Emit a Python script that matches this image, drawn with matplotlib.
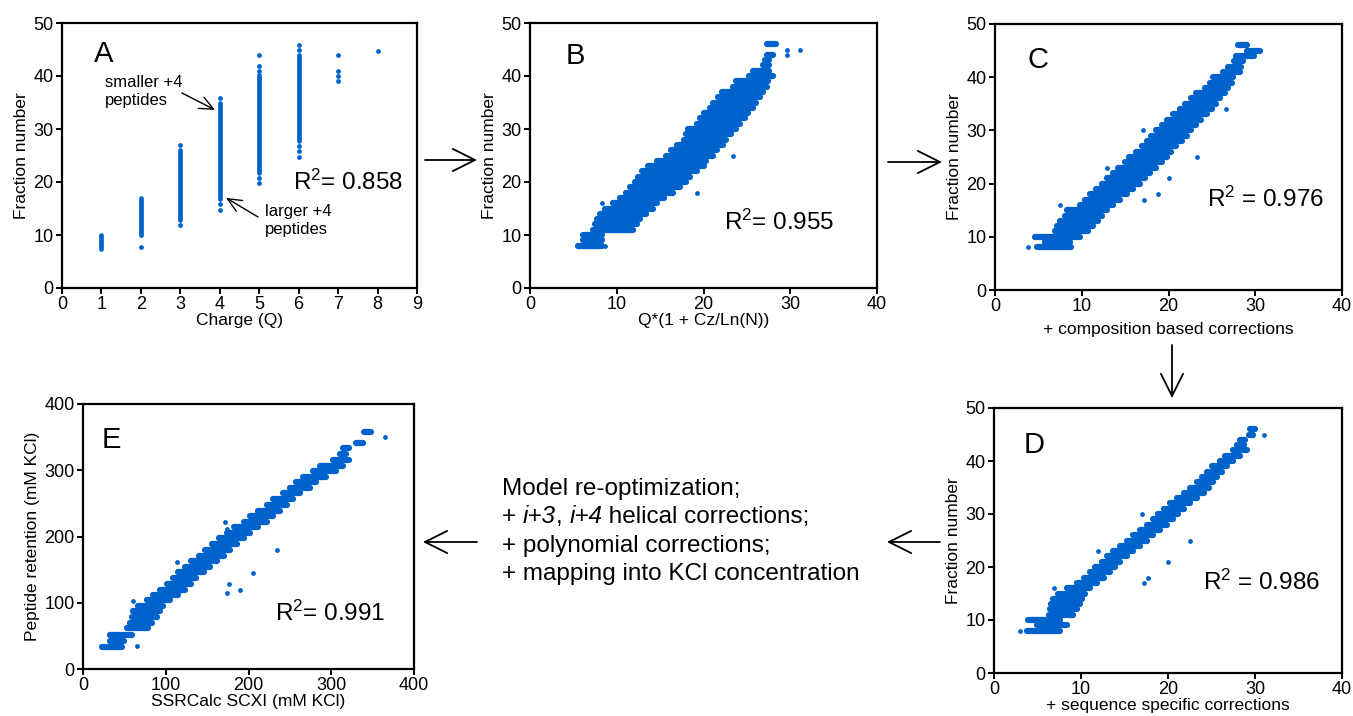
import matplotlib
matplotlib.use("Agg")
import matplotlib.pyplot as plt
import numpy as np

plt.rcParams["font.family"] = ["Liberation Sans", "DejaVu Sans"]
plt.rcParams["mathtext.fontset"] = "custom"
plt.rcParams["mathtext.rm"] = "Liberation Sans"
plt.rcParams["mathtext.it"] = "Liberation Sans:italic"

BLUE = "#0063CB"

# ---- panel A: fraction number vs charge ----
a_charge = [1, 2, 3, 4, 5, 6]
a_core_lo = [7.3, 10.4, 12.9, 16.7, 21.7, 27.7]
a_core_hi = [10.0, 17.0, 26.0, 34.9, 40.2, 44.0]
a_iso_q = [2, 2, 3, 3, 4, 4, 4, 5, 5, 5, 5, 5, 6, 6, 6, 6, 6, 7, 7, 7, 7, 8]
a_iso_frac = [10, 7.8, 26.9, 11.8, 35.8, 15.9, 14.8, 43.9, 41.9, 41, 20.8, 19.8,
              45.9, 45, 26.7, 25.8, 24.8, 43.9, 40.9, 40, 39, 44.8]

# rows of fraction numbers shared by B, C, D
fractions = list(range(8, 47))

# ---- panel B: Q*(1 + Cz/Ln(N)) ----
b_xmin = [5.5, 6.1, 6.1, 7.3, 7.5, 7.7, 8.1, 8.6, 9.6, 10.4, 11.1, 11.5, 12.1, 12.5,
          12.9, 13.6, 14.6, 15.7, 16.3, 16.9, 17.7, 18.0, 18.2, 19.2, 19.6, 20.0,
          20.7, 21.1, 21.7, 22.1, 23.4, 23.8, 25.3, 25.7, 26.9, 27.1, 27.3, 28.2, 27.3]
b_xmax = [8.3, 8.3, 8.3, 11.9, 12.3, 12.7, 13.4, 14.2, 14.6, 15.4, 16.5, 17.3, 18.0,
          18.4, 19.2, 20.0, 20.3, 21.1, 21.5, 22.3, 22.6, 23.2, 23.8, 24.2, 24.8,
          25.1, 25.7, 26.1, 26.5, 26.9, 27.3, 27.4, 28.0, 27.6, 27.6, 27.6, 28.0, 28.2, 28.4]
b_out_x = [8.7, 8.3, 19.2, 23.4, 29.6, 29.6, 31.1]
b_out_y = [8, 16, 18, 25, 45, 44, 45]

# ---- panel C: + composition based corrections ----
c_xmin = [4.8, 5.8, 4.6, 6.9, 7.1, 7.5, 8.1, 8.3, 9.8, 10.4, 10.9, 11.7, 12.3, 12.9,
          13.6, 14.2, 15.0, 15.5, 16.3, 16.9, 17.5, 18.0, 18.6, 19.2, 19.8, 20.5,
          21.3, 21.9, 22.6, 23.2, 24.2, 24.8, 25.1, 26.3, 26.9, 27.6, 27.8, 29.0, 28.0]
c_xmax = [8.8, 8.6, 9.8, 10.7, 11.3, 11.9, 12.3, 12.9, 13.6, 14.4, 15.2, 15.9, 16.7,
          17.3, 17.9, 18.6, 19.2, 19.8, 20.3, 20.9, 21.5, 22.1, 22.6, 23.2, 23.8,
          24.4, 25.0, 25.5, 25.9, 26.5, 26.9, 27.3, 27.4, 28.2, 28.4, 28.6, 29.8, 30.5, 29.0]
c_out_x = [3.8, 7.5, 17.2, 18.8, 20.1, 23.3, 17.1, 26.6, 12.9]
c_out_y = [8, 16, 17, 18, 21, 25, 30, 34, 23]

# ---- panel D: + sequence specific corrections ----
d_xmin = [3.8, 4.9, 3.9, 6.3, 6.4, 6.6, 6.8, 7.4, 8.4, 9.5, 10.3, 11.0, 11.6, 12.4,
          13.0, 13.7, 14.5, 15.3, 16.0, 16.8, 17.6, 18.3, 18.9, 19.5, 20.2, 21.0,
          21.8, 22.5, 23.3, 23.9, 24.5, 25.1, 26.0, 26.6, 27.5, 27.9, 28.3, 29.3, 29.4]
d_xmax = [7.6, 8.4, 7.6, 9.1, 9.5, 9.9, 10.1, 10.5, 11.0, 11.8, 12.6, 13.3, 13.9,
          14.5, 15.3, 16.0, 16.8, 17.6, 18.3, 19.1, 19.9, 20.6, 21.2, 21.8, 22.5,
          23.3, 24.1, 24.7, 25.2, 25.6, 26.2, 26.8, 27.5, 28.3, 29.1, 28.7, 28.9, 29.8, 30.0]
d_out_x = [3.0, 6.9, 12.0, 17.2, 17.7, 20.0, 22.5, 17.0, 31.0]
d_out_y = [8, 16, 23, 17, 18, 21, 25, 30, 45]

# ---- panel E: retention (mM KCl) vs SSRCalc SCXI ----
e_kcl = [33, 42, 51, 62, 70, 78, 87, 95, 104, 112, 120, 129, 137, 146, 154, 163, 171,
         180, 188, 197, 205, 214, 222, 231, 239, 248, 256, 265, 273, 282, 290, 299,
         307, 316, 324, 333, 341, 350, 358]
e_xmin = [23, 33, 33, 53, 57, 59, 61, 67, 77, 85, 93, 101, 109, 115, 123, 131, 140,
          148, 156, 164, 174, 182, 194, 202, 212, 222, 230, 242, 250, 258, 266, 278,
          286, 302, 310, 314, 330, 352, 340]
e_xmax = [47, 49, 59, 79, 83, 89, 93, 97, 105, 115, 123, 131, 137, 146, 154, 162, 170,
          178, 186, 194, 202, 212, 222, 230, 238, 246, 254, 262, 274, 282, 294, 306,
          314, 322, 318, 322, 338, 352, 348]
e_out_x = [23, 65, 60, 114, 172, 174, 176, 174, 190, 206, 235, 365]
e_out_y = [35, 34, 102, 162, 222, 212, 129, 114, 120, 145, 179, 350]

W, H = 1353, 716
fig = plt.figure(figsize=(W / 100, H / 100), dpi=100)


def px_axes(left, top, right, bottom):
    return fig.add_axes([left / W, 1 - bottom / H, (right - left) / W, (bottom - top) / H])


def style(ax, xlim, ylim, xticks, yticks):
    ax.set_xlim(*xlim)
    ax.set_ylim(*ylim)
    ax.set_xticks(xticks)
    ax.set_yticks(yticks)
    for s in ax.spines.values():
        s.set_linewidth(1.6)
    ax.tick_params(direction="out", length=4.5, width=1.4, labelsize=13, pad=1.5,
                   top=False, right=False)


def rows(ax, y, x0, x1, ox, oy):
    ax.hlines(y, x0, x1, colors=BLUE, lw=4.5, capstyle="round")
    ax.scatter(ox, oy, s=12, color=BLUE, linewidths=0)


def r2(ax, x, y, txt):
    ax.text(x, y, txt, transform=ax.transAxes, fontsize=17.5, va="baseline")


def letter(ax, x, y, s):
    ax.text(x, y, s, transform=ax.transAxes, fontsize=21, va="baseline")


# A
axA = px_axes(62, 23, 417, 288)
style(axA, (0, 9), (0, 50), range(0, 10), range(0, 51, 10))
axA.vlines(a_charge, a_core_lo, a_core_hi, colors=BLUE, lw=3.4, capstyle="round")
axA.scatter(a_iso_q, a_iso_frac, s=12, color=BLUE, linewidths=0)
axA.set_xlabel("Charge (Q)", fontsize=12.5, labelpad=0)
axA.set_ylabel("Fraction number", fontsize=12.5, labelpad=3)
letter(axA, 0.09, 0.853, "A")
r2(axA, 0.65, 0.37, r"R$^2$= 0.858")
axA.text(1.09, 40.2, "smaller +4\npeptides", fontsize=12, va="top", linespacing=1.25)
axA.text(5.15, 15.8, "larger +4\npeptides", fontsize=12, va="top", linespacing=1.25)
small_arrow = dict(arrowstyle="->,head_length=1.0,head_width=0.45", lw=1.0,
                   mutation_scale=10, shrinkA=0, shrinkB=0, color="black")
axA.annotate("", xy=(3.88, 33.6), xytext=(3.04, 36.8), arrowprops=small_arrow)
axA.annotate("", xy=(4.16, 17.0), xytext=(4.97, 13.4), arrowprops=small_arrow)

# B
axB = px_axes(530, 23, 877, 288)
style(axB, (0, 40), (0, 50), range(0, 41, 10), range(0, 51, 10))
rows(axB, fractions, b_xmin, b_xmax, b_out_x, b_out_y)
axB.set_xlabel("Q*(1 + Cz/Ln(N))", fontsize=12.5, labelpad=0)
axB.set_ylabel("Fraction number", fontsize=12.5, labelpad=3)
letter(axB, 0.104, 0.845, "B")
r2(axB, 0.56, 0.22, r"R$^2$= 0.955")

# C
axC = px_axes(995, 24, 1342, 290)
style(axC, (0, 40), (0, 50), range(0, 41, 10), range(0, 51, 10))
rows(axC, fractions, c_xmin, c_xmax, c_out_x, c_out_y)
axC.set_xlabel("+ composition based corrections", fontsize=12.5, labelpad=5)
axC.set_ylabel("Fraction number", fontsize=12.5, labelpad=3)
letter(axC, 0.095, 0.835, "C")
r2(axC, 0.61, 0.312, r"R$^2$ = 0.976")

# D
axD = px_axes(994, 408, 1342, 673)
style(axD, (0, 40), (0, 50), range(0, 41, 10), range(0, 51, 10))
rows(axD, fractions, d_xmin, d_xmax, d_out_x, d_out_y)
axD.set_xlabel("+ sequence specific corrections", fontsize=12.5, labelpad=0)
axD.set_ylabel("Fraction number", fontsize=12.5, labelpad=3)
letter(axD, 0.086, 0.83, "D")
r2(axD, 0.60, 0.313, r"R$^2$ = 0.986")

# E
axE = px_axes(83, 404, 414, 669)
style(axE, (0, 400), (0, 400), range(0, 401, 100), range(0, 401, 100))
rows(axE, e_kcl, e_xmin, e_xmax, e_out_x, e_out_y)
axE.set_xlabel("SSRCalc SCXI (mM KCl)", fontsize=12.5, labelpad=0)
axE.set_ylabel("Peptide retention (mM KCl)", fontsize=12.5, labelpad=3)
letter(axE, 0.057, 0.834, "E")
r2(axE, 0.58, 0.18, r"R$^2$= 0.991")

# overlay in pixel coordinates for the workflow arrows and text
ov = fig.add_axes([0, 0, 1, 1], zorder=-1)
ov.set_xlim(0, W)
ov.set_ylim(H, 0)
ov.axis("off")
big_arrow = dict(arrowstyle="->,head_length=0.8,head_width=0.4", lw=1.3,
                 mutation_scale=20, shrinkA=0, shrinkB=0, color="black")
for (x0, y0), (x1, y1) in [((425, 160), (477, 160)), ((888, 162), (942, 162)),
                           ((1172, 345), (1172, 398)), ((940, 542), (887, 542)),
                           ((477, 542), (423, 542))]:
    ov.annotate("", xy=(x1, y1), xytext=(x0, y0), arrowprops=big_arrow)

fs = 17.5
ov.text(502, 495, "Model re-optimization;", fontsize=fs, va="baseline")
t = ov.text(502, 523, "+ ", fontsize=fs, va="baseline")
for piece, italic in [("i+3", True), (", ", False), ("i+4", True), (" helical corrections;", False)]:
    t = ov.annotate(piece, xy=(1, 0), xycoords=t, va="bottom", ha="left", fontsize=fs,
                    style="italic" if italic else "normal")
ov.text(502, 552, "+ polynomial corrections;", fontsize=fs, va="baseline")
ov.text(502, 580, "+ mapping into KCl concentration", fontsize=fs, va="baseline")

fig.savefig("out.png", dpi=100)
